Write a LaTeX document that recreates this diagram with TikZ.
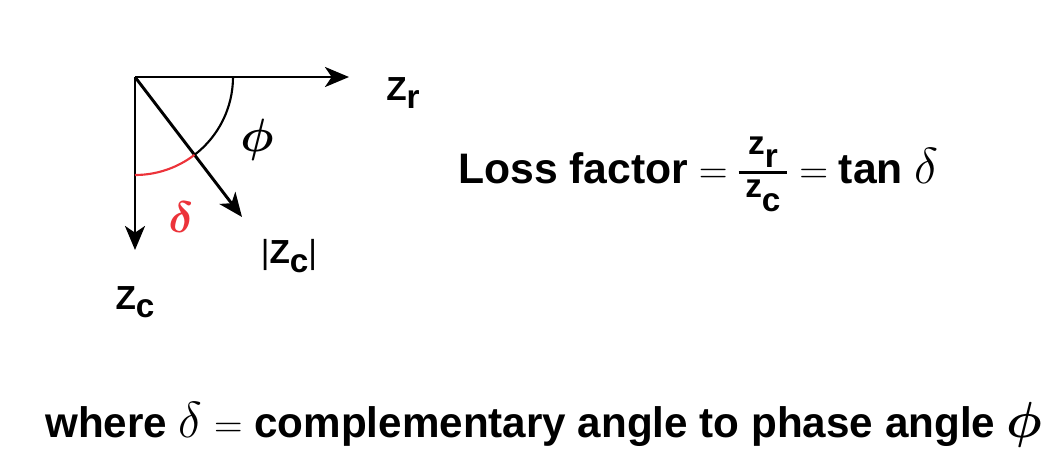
\RequirePackage{fix-cm}
\documentclass[tikz,border=0pt]{standalone}
\usepackage{amsmath}
\usepackage{amssymb}
\usepackage{bm}
\usepackage{graphicx}
\usepackage{fontspec}
\setmainfont{Liberation Sans}
\usetikzlibrary{arrows.meta}
\usetikzlibrary{positioning}
\definecolor{anglered}{RGB}{236,51,58}
\newcommand{\lowsub}[1]{\raisebox{-0.25em}{#1}}
\newcommand{\fracpart}[1]{\mbox{\hspace{5pt}\fontsize{25}{25}\selectfont\bfseries z\raisebox{-0.4em}{#1}\hspace{5pt}}}
\newcommand{\thineq}{\mbox{\fontsize{30}{30}\selectfont$=$}}
\newcommand{\greek}[1]{\mbox{\fontsize{38}{38}\selectfont$#1$}}

\begin{document}
\begin{tikzpicture}[x=0.75pt,y=-0.75pt]
        \useasboundingbox (0,0) rectangle (1046,454);
        \coordinate (O) at (135,77);
        \coordinate (r) at (349,77);
        \coordinate (c) at (135,250);
        \coordinate (m) at (242,217);
        \begin{scope}[every node/.style={font=\fontsize{25}{30}\selectfont\bfseries,inner sep=0pt}]
            \node (zr) at (403,93) {Z\lowsub{r}};
            \node (zc) at (135,302) {Z\lowsub{c}};
            \node (zcmag) at (289,256) {{\mdseries|}Z\lowsub{c}{\mdseries|}};
            \node (phi) at (257,140) {\fontsize{35}{35}\selectfont$\bm{\phi}$};
            \node[text=anglered] (delta) at (181,217) {\fontsize{33}{33}\selectfont$\bm{\delta}$};
        \end{scope}
        \begin{scope}[every node/.style={font=\fontsize{32}{36}\selectfont\bfseries,inner sep=0pt,anchor=base west}]
            \node (loss) at (458,183) {Loss factor\hspace{8pt}\thineq\hspace{7pt}$\genfrac{}{}{2.4pt}{}{\fracpart{r}}{\fracpart{c}}$\hspace{8pt}\thineq\hspace{8pt}tan \greek{\delta}};
            \node (note) at (45,437) {\resizebox{748pt}{\height}{where \greek{\delta} \thineq\ complementary angle to phase angle \greek{\bm{\phi}}}};
        \end{scope}
        \begin{scope}[>={Stealth[length=18pt,width=15pt,inset=5pt]},
            every edge/.style={draw=black,line width=2.2pt}]
            \path [->] (O) edge node {} (r);
            \path [->] (O) edge node {} (c);
            \path [->] (O) edge node {} (m);
        \end{scope}
        \draw[line width=1.6pt] (O) ++(0:98) arc[start angle=0,end angle=52.6,radius=98];
        \draw[line width=1.6pt,anglered] (O) ++(52.6:98) arc[start angle=52.6,end angle=90,radius=98];
    \end{tikzpicture}
\end{document}
